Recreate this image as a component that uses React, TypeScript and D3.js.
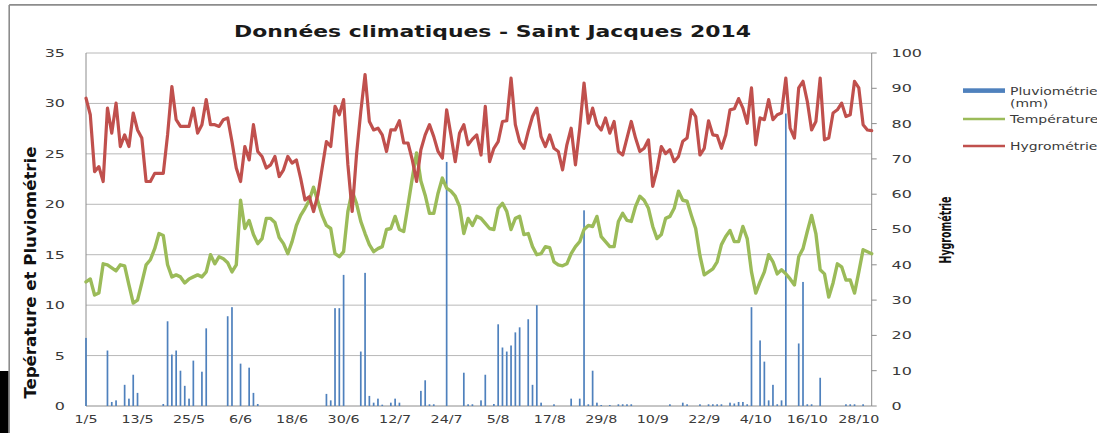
import React from "react";
import * as d3 from "d3";

// ---- data ----
const dates = d3.utcDay.range(new Date(Date.UTC(2014, 4, 1)), new Date(Date.UTC(2014, 10, 1)));
const categories = dates.map(d3.utcFormat("%-d/%-m"));
const tickLabels = ["1/5", "13/5", "25/5", "6/6", "18/6", "30/6", "12/7", "24/7", "5/8", "17/8", "29/8", "10/9", "22/9", "4/10", "16/10", "28/10"];
const leftTicks = [0, 5, 10, 15, 20, 25, 30, 35];
const rightTicks = [0, 10, 20, 30, 40, 50, 60, 70, 80, 90, 100];
const legendNames = ["Pluviométrie", "Température", "Hygrométrie"];

const pluvio = [
  6.75, 0, 0, 0, 0, 5.5, 0.4, 0.56, 0, 2.1,
  0.73, 3.1, 1.3, 0, 0, 0, 0, 0, 0.2, 8.4,
  5.1, 5.5, 3.5, 2.0, 0.73, 4.5, 0, 3.4, 7.7, 0,
  0, 0, 0, 8.9, 9.8, 0, 4.2, 0, 3.8, 1.3,
  0.2, 0, 0, 0, 0, 0, 0, 0, 0, 0,
  0, 0, 0, 0, 0, 0, 1.2, 0.56, 9.7, 9.7,
  13.0, 0, 0, 0, 5.4, 13.2, 1.0, 0.33, 0.73, 0.13,
  0, 0.33, 0.73, 0.33, 0, 0, 0, 0, 1.5, 2.55,
  0.17, 0.17, 0, 0, 24.2, 0, 0, 0, 3.3, 0.17,
  0.17, 0, 0.56, 3.1, 0, 0.2, 8.1, 5.8, 5.4, 6.0,
  7.3, 7.8, 0, 8.6, 2.1, 10.0, 0.33, 0, 0, 0.17,
  0, 0, 0, 0.73, 0, 0.73, 19.4, 0.17, 3.5, 0.33,
  0.1, 0, 0.1, 0, 0.17, 0.17, 0.17, 0.17, 0, 0,
  0, 0, 0, 0, 0, 0, 0.17, 0, 0, 0.33,
  0.17, 0, 0, 0.17, 0, 0.17, 0.17, 0.17, 0.17, 0,
  0.33, 0.25, 0.4, 0.4, 0.17, 9.8, 0, 6.5, 4.4, 0.56,
  2.1, 0.17, 0.56, 29.0, 0, 0, 6.2, 12.3, 0.17, 0.17,
  0, 2.8, 0, 0, 0, 0, 0, 0.17, 0.17, 0.17,
  0, 0.17, 0, 0,
];

const temperature = [
  12.3, 12.6, 11.0, 11.2, 14.1, 14.0, 13.7, 13.4, 14.0, 13.9,
  12.0, 10.2, 10.5, 12.2, 14.0, 14.5, 15.6, 17.1, 16.9, 14.0,
  12.8, 13.0, 12.8, 12.2, 12.6, 12.8, 13.0, 12.8, 13.3, 15.0,
  14.1, 14.8, 14.6, 14.2, 13.3, 14.0, 20.4, 17.6, 18.4, 17.0,
  16.1, 16.6, 18.6, 18.6, 18.2, 16.7, 16.1, 15.1, 16.3, 17.9,
  18.9, 19.6, 20.4, 21.7, 20.3, 18.9, 17.9, 17.6, 15.1, 14.8,
  15.3, 19.3, 21.3, 20.1, 18.3, 17.1, 16.0, 15.3, 15.6, 15.8,
  17.5, 17.6, 18.8, 17.5, 17.3, 19.9, 22.6, 25.1, 22.3, 20.9,
  19.1, 19.1, 21.1, 22.6, 21.6, 21.3, 20.8, 19.8, 17.1, 18.6,
  17.9, 18.8, 18.6, 18.1, 17.6, 17.5, 19.6, 20.1, 19.3, 17.5,
  18.6, 18.8, 17.0, 17.1, 15.8, 15.0, 15.1, 15.8, 15.7, 14.3,
  14.0, 13.9, 14.1, 15.1, 15.8, 16.3, 17.5, 17.9, 17.8, 18.8,
  16.8, 16.3, 15.8, 15.8, 18.3, 19.1, 18.4, 18.3, 19.8, 20.8,
  20.4, 19.6, 17.8, 16.6, 17.0, 18.6, 18.8, 19.6, 21.3, 20.4,
  20.3, 18.9, 17.6, 14.9, 13.0, 13.3, 13.6, 14.3, 16.0, 16.8,
  17.4, 16.3, 16.3, 17.8, 16.6, 13.3, 11.2, 12.3, 13.3, 15.0,
  14.3, 13.1, 13.5, 13.1, 12.6, 12.0, 14.8, 15.6, 17.3, 18.9,
  17.1, 13.5, 13.1, 10.8, 12.2, 14.1, 13.8, 12.5, 12.5, 11.2,
  13.3, 15.5, 15.3, 15.1,
];

const hygrometrie = [
  87.2, 82.5, 66.4, 67.8, 63.6, 84.4, 77.3, 85.8, 73.5, 76.8,
  73.5, 83, 78.2, 75.9, 63.6, 63.6, 65.9, 65.9, 65.9, 76.8,
  90.5, 81.1, 79.2, 79.2, 79.2, 84.4, 77.3, 79.7, 86.8, 79.7,
  79.7, 79.2, 81.1, 81.6, 74.9, 67.4, 63.6, 73.5, 69.7, 79.7,
  72.1, 70.7, 67.4, 68.3, 70.7, 65, 66.9, 70.7, 68.8, 69.7,
  64.5, 58.4, 59.3, 55.1, 59.8, 67.4, 74.9, 73.5, 84.9, 82.5,
  86.8, 68.3, 55.1, 71.1, 83.4, 93.9, 80.6, 78.2, 78.7, 76.8,
  72.1, 78.2, 78.2, 80.8, 74.5, 74.5, 69.7, 63.6, 72.6, 76.8,
  79.7, 76.3, 72.1, 70.2, 83.9, 76.8, 69.2, 77.3, 79.7, 74,
  75.6, 76.8, 71.1, 84.9, 69.2, 73, 74.9, 80.6, 80.8, 92.9,
  79.7, 74.9, 73, 77.8, 82, 84.4, 76.3, 73.5, 76.8, 73,
  72.1, 66.9, 74, 78.7, 68.3, 78.7, 91.5, 80.1, 84.4, 79.7,
  78.2, 81.6, 77.3, 80.6, 72.1, 71.1, 75.9, 80.6, 75.9, 72.1,
  73, 75.4, 62.2, 66.9, 73.5, 71.5, 72.6, 69.2, 70.7, 75,
  75.9, 83.9, 82, 71.1, 73, 80.8, 76.8, 76.6, 73, 76.8,
  83.9, 84.2, 87.1, 84.4, 80.1, 90.1, 74, 81.6, 81.1, 86.8,
  81.1, 82.5, 83, 92.9, 78.7, 75.9, 90.1, 92, 86.3, 78.2,
  80.6, 92.9, 75.4, 75.9, 83, 83.9, 85.8, 82, 82.5, 92,
  90.1, 79.7, 78.2, 78,
];

// ---- layout ----
const W = 1097;
const H = 433;
const X0 = 86;
const X1 = 871.7;
const YT = 53;
const YB = 406;

const BLUE = "#4f81bd";
const GREEN = "#9bbb59";
const RED = "#c0504d";
const TXT = "#3a3a3a";
const FONT = "'DejaVu Sans', Verdana, sans-serif";
const NARROW = "'Liberation Sans Narrow', 'DejaVu Sans Condensed', 'Arial Narrow', 'Liberation Sans', sans-serif";

export default function App() {
  const x = d3.scalePoint<string>().domain(categories).range([X0, X1]).padding(0);
  const yL = d3.scaleLinear().domain([0, 35]).range([YB, YT]);
  const yR = d3.scaleLinear().domain([0, 100]).range([YB, YT]);

  const tempLine = d3
    .line<number>()
    .x((_, i) => x(categories[i]) as number)
    .y((d) => yL(d))(temperature) as string;
  const hygroLine = d3
    .line<number>()
    .x((_, i) => x(categories[i]) as number)
    .y((d) => yR(d))(hygrometrie) as string;

  const barW = 1.7;

  return (
    <svg
      width={W}
      height={H}
      viewBox={`0 0 ${W} ${H}`}
      style={{ position: "absolute", left: 0, top: 0, display: "block", background: "#fff" }}
    >
      <rect x={0} y={0} width={W} height={H} fill="#fff" />
      {/* outer frame */}
      <line x1={9.2} y1={4.9} x2={W} y2={4.9} stroke="#8c8c8c" strokeWidth={1.6} />
      <line x1={9.2} y1={4.9} x2={9.2} y2={H} stroke="#8c8c8c" strokeWidth={1.6} />
      <rect x={0} y={371} width={8.4} height={H - 371} fill="#000" />

      {/* title */}
      <text
        x={492.5}
        y={37}
        textAnchor="middle"
        fontFamily={FONT}
        fontWeight="bold"
        fontSize={16}
        fill="#1a1a1a"
        textLength={517}
        lengthAdjust="spacingAndGlyphs"
      >
        Données climatiques - Saint Jacques 2014
      </text>

      {/* gridlines */}
      {leftTicks.map((t) => (
        <line key={"g" + t} x1={X0} x2={X1} y1={yL(t)} y2={yL(t)} stroke={t === 0 ? "#8c8c8c" : "#b8b8b8"} strokeWidth={1} />
      ))}
      {/* axes */}
      <line x1={X0} x2={X0} y1={YT} y2={YB} stroke="#8c8c8c" strokeWidth={1} />
      <line x1={X1} x2={X1} y1={YT} y2={YB} stroke="#8c8c8c" strokeWidth={1} />
      {rightTicks.map((t) => (
        <line key={"rt" + t} x1={X1} x2={X1 + 5} y1={yR(t)} y2={yR(t)} stroke="#8c8c8c" strokeWidth={1} />
      ))}

      {/* bars */}
      {pluvio.map((v, i) =>
        v > 0 ? (
          <rect
            key={"b" + i}
            x={(x(categories[i]) as number) - barW / 2}
            y={yL(v)}
            width={barW}
            height={yL(0) - yL(v)}
            fill={BLUE}
          />
        ) : null
      )}

      {/* lines */}
      <path d={tempLine} fill="none" stroke={GREEN} strokeWidth={3.4} strokeLinejoin="round" strokeLinecap="round" />
      <path d={hygroLine} fill="none" stroke={RED} strokeWidth={3.2} strokeLinejoin="round" strokeLinecap="round" />

      {/* left tick labels */}
      {leftTicks.map((t) => (
        <text
          key={"lt" + t}
          transform={`translate(65,${yL(t)}) scale(1.45,1)`}
          textAnchor="end"
          dy="0.36em"
          fontFamily={FONT}
          fontSize={11}
          fill={TXT}
        >
          {t}
        </text>
      ))}
      {/* right tick labels */}
      {rightTicks.map((t) => (
        <text
          key={"rl" + t}
          transform={`translate(891.5,${yR(t)}) scale(1.45,1)`}
          textAnchor="start"
          dy="0.36em"
          fontFamily={FONT}
          fontSize={11}
          fill={TXT}
        >
          {t}
        </text>
      ))}
      {/* x tick labels */}
      {tickLabels.map((lab) => (
        <text
          key={"xl" + lab}
          transform={`translate(${x(lab)},423.3) scale(1.3,1)`}
          textAnchor="middle"
          fontFamily={FONT}
          fontSize={11}
          fill={TXT}
        >
          {lab}
        </text>
      ))}

      {/* axis titles */}
      <text
        transform="translate(36,272.5) scale(1.2,1) rotate(-90)"
        textAnchor="middle"
        fontFamily={NARROW}
        fontWeight="bold"
        fontSize={13}
        fill="#111"
        textLength={252}
        lengthAdjust="spacingAndGlyphs"
      >
        Tepérature et Pluviométrie
      </text>
      <text
        transform="translate(951,230) scale(1.25,1) rotate(-90)"
        textAnchor="middle"
        fontFamily={NARROW}
        fontWeight="bold"
        fontSize={13}
        fill="#111"
        textLength={67}
        lengthAdjust="spacingAndGlyphs"
      >
        Hygrométrie
      </text>

      {/* legend */}
      <rect x={963} y={88.3} width={42} height={4.6} fill={BLUE} />
      <text transform="translate(1010,94.6) scale(1.27,1)" fontFamily={FONT} fontSize={11} fill={TXT}>
        {legendNames[0]}
      </text>
      <text transform="translate(1010,106.6) scale(1.27,1)" fontFamily={FONT} fontSize={11} fill={TXT}>
        (mm)
      </text>
      <line x1={963} x2={1005} y1={119} y2={119} stroke={GREEN} strokeWidth={2.6} />
      <text transform="translate(1010,122.8) scale(1.27,1)" fontFamily={FONT} fontSize={11} fill={TXT}>
        {legendNames[1]}
      </text>
      <line x1={963} x2={1005} y1={146} y2={146} stroke={RED} strokeWidth={2.6} />
      <text transform="translate(1010,149.8) scale(1.27,1)" fontFamily={FONT} fontSize={11} fill={TXT}>
        {legendNames[2]}
      </text>
    </svg>
  );
}
